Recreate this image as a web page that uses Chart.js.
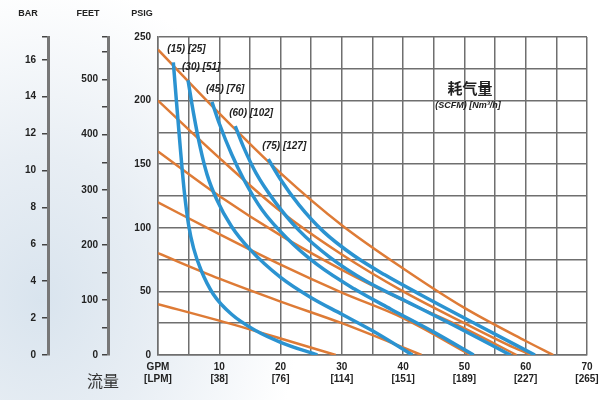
<!DOCTYPE html>
<html>
<head>
<meta charset="utf-8">
<script src="https://cdn.jsdelivr.net/npm/chart.js@4.4.1/dist/chart.umd.min.js"></script>
<style>
  html, body { margin: 0; padding: 0; }
  body {
    width: 615px; height: 400px; overflow: hidden;
    background: radial-gradient(ellipse 260px 320px at 40px 300px, #d9e4ee 0%, #e8eef4 45%, #ffffff 100%);
  }
  #wrap { position: relative; width: 615px; height: 400px; }
</style>
</head>
<body>
<div id="wrap"><canvas id="pumpChart"></canvas></div>
<script>
// 流量刻度 (GPM / LPM)
const gpmLabels = ["GPM", "10", "20", "30", "40", "50", "60", "70"];
const lpmLabels = ["[LPM]", "[38]", "[76]", "[114]", "[151]", "[189]", "[227]", "[265]"];

// 进气压力曲线 (橙色), 每条: [GPM, PSIG]
const air240 = [[0, 240], [10, 190], [20, 143], [30, 102], [40, 68], [50, 37], [60, 11], [64.5, 0]];
const air200 = [[0, 200], [10, 155], [20, 113], [30, 79], [40, 50], [50, 25], [58, 6], [61, 0]];
const air160 = [[0, 160], [10, 125], [20, 94], [30, 67], [40, 43], [50, 21], [58.5, 0]];
const air120 = [[0, 120], [10, 95], [20, 71], [30, 49], [40, 29], [51, 0]];
const air80 = [[0, 80], [10, 60], [20, 42], [30, 25], [43, 0]];
const air40 = [[0, 40], [10, 27], [20, 13], [29, 0]];

// 耗气量曲线 (蓝色) SCFM
const scfm15 = [[2.5, 230], [3, 200], [3.6, 165], [4.3, 128], [5, 102], [5.8, 84], [7, 67], [9, 48], [12, 32], [16, 19], [20, 10], [26, 0]];
const scfm30 = [[4.9, 216], [5.8, 190], [6.9, 163], [8, 142], [9.6, 122], [12, 101], [15, 83], [20, 61], [25, 45], [30, 32], [35, 19], [41.5, 0]];
const scfm45 = [[8.8, 199], [10, 182], [12, 158], [14, 138], [17, 114], [21, 92], [26, 71], [32, 52], [38, 36], [45, 18], [51.5, 0]];
const scfm60 = [[12.6, 180], [14, 163], [16, 143], [19, 121], [23, 98], [28, 77], [34, 58], [41, 41], [48, 24], [57.5, 0]];
const scfm75 = [[18, 154], [20, 138], [23, 118], [27, 97], [32, 78], [37, 63], [43, 47], [52, 24], [61.5, 0]];
const scfmLabels = ["(15) [25]", "(30) [51]", "(45) [76]", "(60) [102]", "(75) [127]"];

const PSI_TO_BAR = 1 / 14.5038;
const PSI_TO_FEET = 2.31;

const ORANGE = "#de7b36";
const BLUE = "#2b93d1";
const GRID = "#6f6f6f";
const FONT = "'Liberation Sans Narrow', 'Liberation Sans', Arial, sans-serif";

function pts(arr) {
  return arr.map((p) => ({ x: p[0], y: p[1] }));
}

function curve(arr, color, width) {
  return {
    data: pts(arr),
    borderColor: color,
    borderWidth: width,
    pointRadius: 0,
    fill: false,
    cubicInterpolationMode: "monotone",
    xAxisID: "x",
    yAxisID: "y",
  };
}

const blueSets = [scfm15, scfm30, scfm45, scfm60, scfm75];
const orangeSets = [air240, air200, air160, air120, air80, air40];

// 蓝线在前 => 画在上层
const datasets = blueSets
  .map((s) => curve(s, BLUE, 3.5))
  .concat(orangeSets.map((s) => curve(s, ORANGE, 2.5)));

const tickFont = { family: FONT, size: 10, weight: "bold" };

// 背景 + 文字标注
const decorPlugin = {
  id: "decor",
  beforeDraw(chart) {
    const { ctx, chartArea } = chart;
    ctx.save();
    ctx.fillStyle = "#ffffff";
    ctx.fillRect(chartArea.left, chartArea.top, chartArea.right - chartArea.left, chartArea.bottom - chartArea.top);
    ctx.restore();
  },
  afterDraw(chart) {
    const { ctx, scales } = chart;
    ctx.save();
    ctx.fillStyle = "#222";
    ctx.textAlign = "center";
    ctx.textBaseline = "middle";
    ctx.font = "bold 9px " + FONT;
    ctx.fillText("BAR", scales.yBar.right - 20, 14);
    ctx.fillText("FEET", scales.yFeet.right - 20, 14);
    ctx.fillText("PSIG", scales.y.right - 16, 14);

    // 曲线标签
    ctx.textAlign = "left";
    ctx.font = "italic bold 10px " + FONT;
    blueSets.forEach((s, i) => {
      const px = scales.x.getPixelForValue(s[0][0]);
      const py = scales.y.getPixelForValue(s[0][1]);
      ctx.fillText(scfmLabels[i], px - 6, py - 13);
    });

    ctx.textAlign = "center";
    ctx.font = "bold 15px 'Noto Sans CJK SC', sans-serif";
    ctx.fillText("耗气量", 470, 88);
    ctx.font = "italic bold 9px " + FONT;
    ctx.fillText("(SCFM) [Nm³/h]", 468, 106);

    ctx.fillStyle = "#333";
    ctx.font = "16px 'Noto Sans CJK SC', sans-serif";
    ctx.fillText("流量", 103, 381);
    ctx.restore();
  },
};

new Chart(document.getElementById("pumpChart").getContext("2d"), {
  type: "line",
  data: { datasets: datasets },
  options: {
    responsive: true,
    maintainAspectRatio: false,
    animation: false,
    layout: { padding: { top: 37, right: 28, left: 0, bottom: 0 } },
    plugins: { legend: { display: false }, tooltip: { enabled: false } },
    scales: {
      x: {
        type: "linear",
        min: 0,
        max: 70,
        grid: { color: GRID, lineWidth: 1.5, drawTicks: false },
        border: { color: GRID, width: 1.5 },
        ticks: {
          stepSize: 5,
          autoSkip: false,
          maxRotation: 0,
          padding: 6,
          color: "#222",
          font: tickFont,
          callback: (v) => (v % 10 === 0 ? [gpmLabels[v / 10], lpmLabels[v / 10]] : ""),
        },
        afterFit: (s) => { s.height = 45; },
      },
      y: {
        type: "linear",
        position: "left",
        min: 0,
        max: 250,
        weight: 0,
        grid: { color: GRID, lineWidth: 1.5, drawTicks: false },
        border: { color: GRID, width: 1.5 },
        ticks: {
          stepSize: 25,
          autoSkip: false,
          padding: 7,
          color: "#222",
          font: tickFont,
          callback: (v) => (v % 50 === 0 ? String(v) : ""),
        },
        afterFit: (s) => { s.width = 50; },
      },
      yFeet: {
        type: "linear",
        position: "left",
        min: 0,
        max: 250 * PSI_TO_FEET,
        weight: 1,
        grid: { drawOnChartArea: false, color: "#444", lineWidth: 1.5, tickLength: 6 },
        border: { color: "#777", width: 3 },
        ticks: {
          stepSize: 50,
          autoSkip: false,
          padding: 4,
          color: "#222",
          font: tickFont,
          callback: (v) => (v % 100 === 0 ? String(v) : ""),
        },
        afterFit: (s) => { s.width = 60; },
      },
      yBar: {
        type: "linear",
        position: "left",
        min: 0,
        max: 250 * PSI_TO_BAR,
        weight: 2,
        grid: { drawOnChartArea: false, color: "#444", lineWidth: 1.5, tickLength: 6 },
        border: { color: "#777", width: 3 },
        ticks: {
          stepSize: 2,
          autoSkip: false,
          padding: 6,
          color: "#222",
          font: tickFont,
          callback: (v) => (v % 2 === 0 ? String(v) : ""),
        },
        afterFit: (s) => { s.width = 48; },
      },
    },
  },
  plugins: [decorPlugin],
});
</script>
</body>
</html>
